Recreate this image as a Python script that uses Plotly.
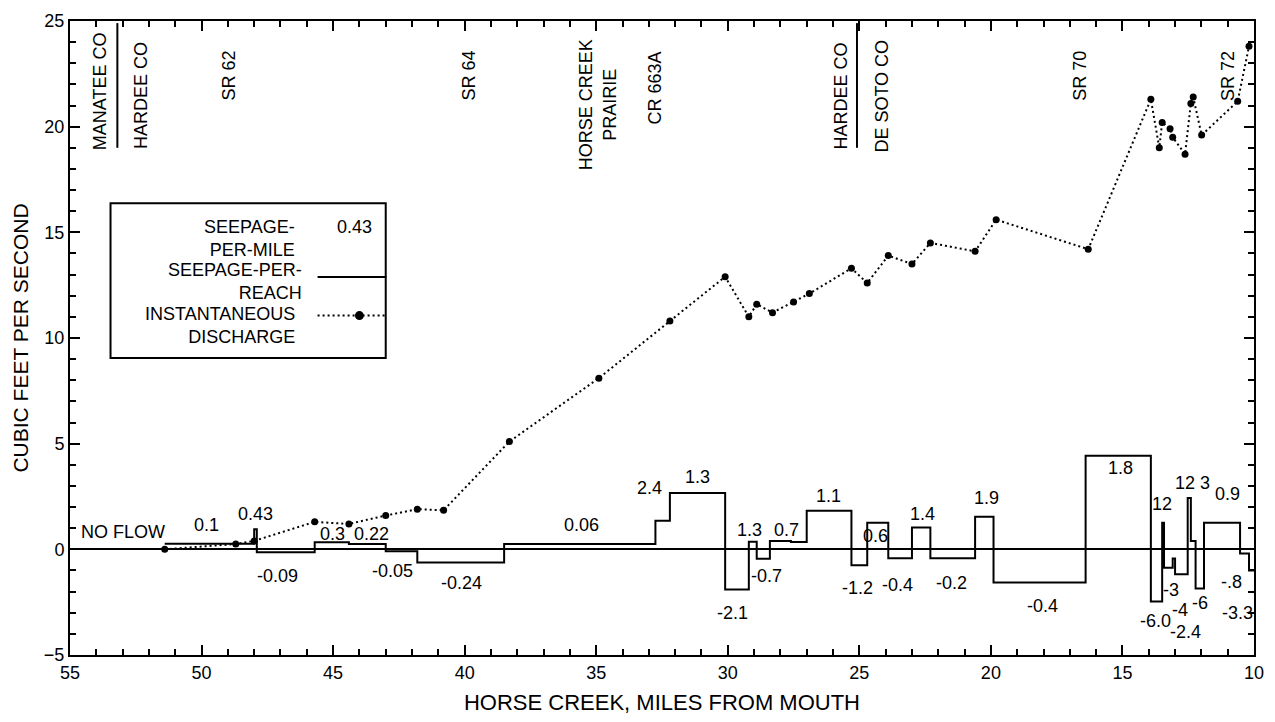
import plotly.graph_objects as go

# ---- Seepage run along Horse Creek ----
# Reach boundaries, miles from mouth (upstream -> downstream)
reach_bounds = [51.4, 48.0, 47.9, 45.7, 44.4, 43.0, 41.8, 38.5, 32.75, 32.2, 30.1,
                29.2, 28.9, 28.4, 27.6, 27.0, 25.3, 24.7, 23.9, 23.0, 22.3, 20.6,
                19.9, 16.4, 13.92, 13.49, 13.42, 13.09, 13.0, 12.52, 12.4, 12.22,
                11.9, 10.53, 10.19, 10.0]
# Seepage per reach, cubic feet per second (one value per reach)
reach_seepage = [0.27, 0.95, -0.14, 0.34, 0.25, -0.09, -0.62, 0.25, 1.35, 2.67,
                 -1.9, 0.36, -0.45, 0.4, 0.35, 1.82, -0.75, 1.26, -0.42, 1.03,
                 -0.42, 1.54, -1.57, 4.43, -2.47, 1.26, -0.87, -0.43, -1.18, 2.43,
                 0.4, -1.85, 1.26, -0.2, -1.0]

# Instantaneous discharge measurements
discharge_miles = [51.4, 48.7, 48.0, 45.7, 44.4, 43.0, 41.8, 40.8, 38.3, 34.9, 32.2,
                   30.1, 29.2, 28.9, 28.3, 27.5, 26.9, 25.3, 24.7, 23.9, 23.0, 22.3,
                   20.6, 19.8, 16.3, 13.92, 13.6, 13.49, 13.19, 13.09, 12.62, 12.4,
                   12.31, 11.99, 10.62, 10.19]
discharge_cfs = [0.0, 0.25, 0.4, 1.3, 1.2, 1.6, 1.9, 1.85, 5.1, 8.1, 10.8,
                 12.9, 11.0, 11.6, 11.2, 11.7, 12.1, 13.3, 12.6, 13.9, 13.5, 14.5,
                 14.1, 15.6, 14.2, 21.3, 19.0, 20.2, 19.9, 19.5, 18.7, 21.1,
                 21.4, 19.6, 21.2, 23.8]

# Seepage-per-mile labels
per_mile_text = ["NO FLOW", "0.1", "0.43", "-0.09", "0.3", "0.22", "-0.05", "-0.24",
                 "0.06", "2.4", "1.3", "-2.1", "1.3", "-0.7", "0.7", "1.1", "-1.2",
                 "0.6", "-0.4", "1.4", "-0.2", "1.9", "-0.4", "1.8", "12", "-6.0",
                 "-3", "-4", "-2.4", "12", "3", "-6", "0.9", "-.8", "-3.3"]

# Landmarks along the creek
landmark_text = ["MANATEE CO", "HARDEE CO", "SR 62", "SR 64", "HORSE CREEK<br>PRAIRIE",
                 "CR 663A", "HARDEE CO", "DE SOTO CO", "SR 70", "SR 72"]
county_lines = [53.2, 25.09]

x_ticks = [55, 50, 45, 40, 35, 30, 25, 20, 15, 10]
y_ticks = [-5, 0, 5, 10, 15, 20, 25]

FONT = "Liberation Sans, Arial, Helvetica, sans-serif"

# label placement (miles, cfs)
per_mile_pos = [(52.97, 0.84), (49.82, 1.15), (47.95, 1.69), (47.1, -1.26), (45.03, 0.73),
                (43.55, 0.73), (42.73, -1.03), (40.11, -1.59), (35.56, 1.17), (32.97, 2.89),
                (31.14, 3.41), (29.81, -3.0), (29.16, 0.93), (28.53, -1.26), (27.77, 0.93),
                (26.16, 2.52), (25.06, -1.82), (24.37, 0.65), (23.54, -1.68), (22.59, 1.68),
                (21.49, -1.59), (20.15, 2.43), (18.02, -2.66), (15.06, 3.83), (13.5, 2.15),
                (13.76, -3.38), (13.16, -1.91), (12.81, -2.89), (12.59, -3.92), (12.62, 3.13),
                (11.86, 3.13), (12.05, -2.56), (11.0, 2.61), (10.87, -1.54), (10.61, -3.03)]
landmark_pos = [(53.88, 21.7), (52.32, 21.47), (48.97, 22.4), (39.85, 22.4), (34.94, 21.05),
                (32.78, 21.84), (25.7, 21.47), (24.14, 21.47), (16.62, 22.4), (10.99, 22.4)]

fig = go.Figure()

# seepage per reach as a step line
fig.add_trace(go.Scatter(
    x=reach_bounds, y=reach_seepage + [reach_seepage[-1]],
    mode="lines", line=dict(color="black", width=2, shape="hv"),
    showlegend=False, hoverinfo="skip"))

# instantaneous discharge
fig.add_trace(go.Scatter(
    x=discharge_miles, y=discharge_cfs, mode="lines+markers",
    line=dict(color="black", width=2, dash="2px,3px"),
    marker=dict(color="black", size=7),
    showlegend=False, hoverinfo="skip"))

lab_font = dict(family=FONT, size=18, color="black")
annotations = []
for txt, (ax, ay) in zip(per_mile_text, per_mile_pos):
    annotations.append(dict(x=ax, y=ay, text=txt, showarrow=False, font=lab_font))
for txt, (ax, ay) in zip(landmark_text, landmark_pos):
    annotations.append(dict(x=ax, y=ay, text=txt, showarrow=False, textangle=-90,
                            font=lab_font))

# legend box content
annotations += [
    dict(x=46.39, y=14.72, text="SEEPAGE-<br>PER-MILE", showarrow=False, xanchor="right",
         align="right", font=lab_font),
    dict(x=44.18, y=15.23, text="0.43", showarrow=False, font=lab_font),
    dict(x=46.12, y=12.67, text="SEEPAGE-PER-<br>REACH", showarrow=False, xanchor="right",
         align="right", font=lab_font),
    dict(x=46.39, y=10.59, text="INSTANTANEOUS<br>DISCHARGE", showarrow=False, xanchor="right",
         align="right", font=lab_font),
]

shapes = [
    dict(type="rect", x0=53.46, x1=43.0, y0=16.38, y1=9.05,
         line=dict(color="black", width=2), fillcolor="white", layer="below"),
    dict(type="line", x0=45.59, x1=42.98, y0=12.89, y1=12.89,
         line=dict(color="black", width=2)),
    dict(type="line", x0=45.59, x1=42.98, y0=11.06, y1=11.06,
         line=dict(color="black", width=2, dash="2px,3px")),
    dict(type="circle", xref="x", yref="y", xsizemode="pixel", ysizemode="pixel",
         xanchor=44.0, yanchor=11.06, x0=-4.5, x1=4.5, y0=-4.5, y1=4.5,
         fillcolor="black", line=dict(color="black", width=0)),
]
for cx in county_lines:
    shapes.append(dict(type="line", x0=cx, x1=cx, y0=24.9, y1=19.0,
                       line=dict(color="black", width=2)))

axis_common = dict(
    showline=True, linecolor="black", linewidth=2, mirror="allticks",
    ticks="inside", ticklen=10, tickwidth=2, tickcolor="black",
    showgrid=False, tickfont=dict(family=FONT, size=18, color="black"),
    minor=dict(ticks="inside", ticklen=6, tickwidth=2, tickcolor="black", dtick=1,
               showgrid=False),
)

fig.update_layout(
    width=1275, height=722,
    margin=dict(l=70, r=21, t=11, b=65),
    paper_bgcolor="white", plot_bgcolor="white",
    font=dict(family=FONT, color="black"),
    xaxis=dict(range=[55, 10], tickvals=x_ticks, zeroline=False,
               title=dict(text="HORSE CREEK, MILES FROM MOUTH",
                          font=dict(family=FONT, size=22), standoff=13),
               **axis_common),
    yaxis=dict(range=[-5, 25], tickvals=y_ticks, zeroline=True, zerolinecolor="black",
               zerolinewidth=2,
               title=dict(text="CUBIC FEET PER SECOND", font=dict(family=FONT, size=21),
                          standoff=10),
               **axis_common),
    annotations=annotations, shapes=shapes,
)

fig.write_html("out.html")
